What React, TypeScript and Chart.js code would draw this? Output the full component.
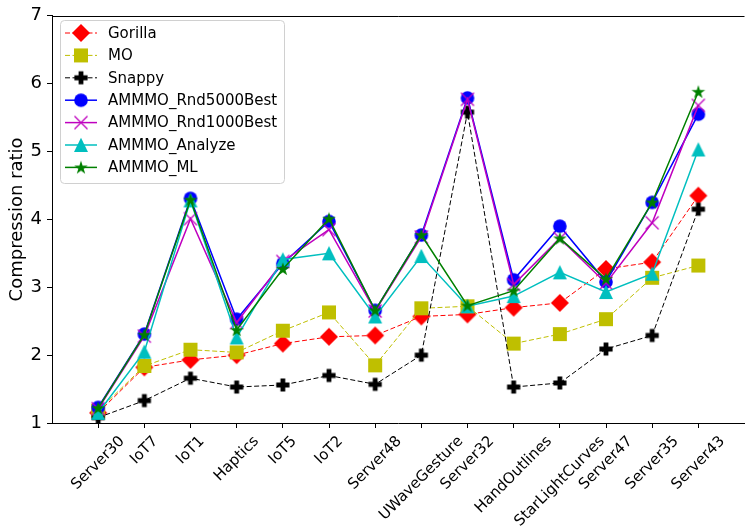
import React, { useEffect, useRef } from 'react';
import { Chart, registerables } from 'chart.js';

Chart.register(...registerables);

const categories = ['Server30', 'IoT7', 'IoT1', 'Haptics', 'IoT5', 'IoT2', 'Server48', 'UWaveGesture', 'Server32', 'HandOutlines', 'StarLightCurves', 'Server47', 'Server35', 'Server43'];
const gorilla = [1.15, 1.82, 1.93, 2.0, 2.17, 2.27, 2.29, 2.57, 2.6, 2.7, 2.77, 3.27, 3.37, 4.35];
const mo = [1.18, 1.84, 2.08, 2.04, 2.36, 2.63, 1.85, 2.69, 2.72, 2.17, 2.31, 2.53, 3.14, 3.32];
const snappy = [1.08, 1.33, 1.66, 1.53, 1.56, 1.7, 1.57, 2.0, 5.58, 1.53, 1.59, 2.09, 2.29, 4.15];
const rnd5000 = [1.23, 2.31, 4.31, 2.53, 3.35, 3.97, 2.66, 3.77, 5.79, 3.11, 3.9, 3.08, 4.25, 5.55];
const rnd1000 = [1.21, 2.28, 4.01, 2.48, 3.38, 3.85, 2.65, 3.74, 5.77, 3.04, 3.72, 3.06, 3.95, 5.68];
const analyze = [1.15, 2.05, 4.28, 2.26, 3.41, 3.5, 2.57, 3.46, 2.72, 2.87, 3.22, 2.93, 3.2, 5.03];
const ml = [1.22, 2.3, 4.29, 2.37, 3.27, 4.01, 2.66, 3.77, 2.73, 2.95, 3.72, 3.12, 4.25, 5.88];
const seriesLabels = ['Gorilla', 'MO', 'Snappy', 'AMMMO_Rnd5000Best', 'AMMMO_Rnd1000Best', 'AMMMO_Analyze', 'AMMMO_ML'];
const yTicks = [1, 2, 3, 4, 5, 6, 7];

const FONT = '"DejaVu Sans", sans-serif';

function makeMarker(size: number, draw: (ctx: CanvasRenderingContext2D, c: number) => void) {
  const cv = document.createElement('canvas');
  cv.width = size;
  cv.height = size;
  const ctx = cv.getContext('2d')!;
  draw(ctx, size / 2);
  return cv;
}

function buildMarkers() {
  const diamond = makeMarker(20, (ctx, c) => {
    ctx.fillStyle = '#ff0000';
    ctx.beginPath();
    ctx.moveTo(c, c - 9); ctx.lineTo(c + 9, c); ctx.lineTo(c, c + 9); ctx.lineTo(c - 9, c);
    ctx.closePath(); ctx.fill();
  });
  const square = makeMarker(16, (ctx, c) => {
    ctx.fillStyle = '#bfbf00';
    ctx.fillRect(c - 7, c - 7, 14, 14);
  });
  const plus = makeMarker(16, (ctx, c) => {
    ctx.fillStyle = '#000000';
    const a = 6.6, t = 2.4;
    ctx.beginPath();
    ctx.moveTo(c - t, c - a); ctx.lineTo(c + t, c - a); ctx.lineTo(c + t, c - t); ctx.lineTo(c + a, c - t);
    ctx.lineTo(c + a, c + t); ctx.lineTo(c + t, c + t); ctx.lineTo(c + t, c + a); ctx.lineTo(c - t, c + a);
    ctx.lineTo(c - t, c + t); ctx.lineTo(c - a, c + t); ctx.lineTo(c - a, c - t); ctx.lineTo(c - t, c - t);
    ctx.closePath(); ctx.fill();
  });
  const circle = makeMarker(16, (ctx, c) => {
    ctx.fillStyle = '#0000ff';
    ctx.beginPath(); ctx.arc(c, c, 6.8, 0, Math.PI * 2); ctx.fill();
  });
  const xmark = makeMarker(16, (ctx, c) => {
    ctx.strokeStyle = '#bf00bf'; ctx.lineWidth = 1.3;
    const a = 6.5;
    ctx.beginPath();
    ctx.moveTo(c - a, c - a); ctx.lineTo(c + a, c + a);
    ctx.moveTo(c + a, c - a); ctx.lineTo(c - a, c + a);
    ctx.stroke();
  });
  const tri = makeMarker(16, (ctx, c) => {
    ctx.fillStyle = '#00bfbf';
    ctx.beginPath();
    ctx.moveTo(c, c - 7.2); ctx.lineTo(c + 7, c + 7); ctx.lineTo(c - 7, c + 7);
    ctx.closePath(); ctx.fill();
  });
  const star = makeMarker(18, (ctx, c) => {
    ctx.fillStyle = '#008000';
    const R = 7.2, r = R * 0.382;
    ctx.beginPath();
    for (let k = 0; k < 10; k++) {
      const ang = -Math.PI / 2 + (k * Math.PI) / 5;
      const rr = k % 2 === 0 ? R : r;
      const px = c + rr * Math.cos(ang), py = c + 0.5 + rr * Math.sin(ang);
      if (k === 0) ctx.moveTo(px, py); else ctx.lineTo(px, py);
    }
    ctx.closePath(); ctx.fill();
  });
  return [diamond, square, plus, circle, xmark, tri, star];
}

const colors = ['#ff0000', '#bfbf00', '#000000', '#0000ff', '#bf00bf', '#00bfbf', '#008000'];
const dashedFlags = [true, true, true, false, false, false, false];

export default function App() {
  const ref = useRef<HTMLCanvasElement>(null);

  useEffect(() => {
    const markers = buildMarkers();
    const values = [gorilla, mo, snappy, rnd5000, rnd1000, analyze, ml];

    const datasets = values.map((vals, i) => ({
      label: seriesLabels[i],
      data: vals.map((v, j) => ({ x: j, y: v })),
      borderColor: colors[i],
      backgroundColor: colors[i],
      borderWidth: dashedFlags[i] ? 1 : 1.5,
      borderDash: dashedFlags[i] ? [5, 2.5] : [],
      pointStyle: markers[i] as any,
      pointRadius: 6,
      pointHoverRadius: 6,
      tension: 0,
      order: 6 - i,
    }));

    const decor = {
      id: 'decor',
      afterDraw(chart: any) {
        const { ctx, chartArea: a, scales } = chart;
        ctx.save();
        // top frame line
        ctx.strokeStyle = '#000';
        ctx.lineWidth = 1;
        ctx.beginPath();
        ctx.moveTo(a.left, Math.round(a.top) + 0.5);
        ctx.lineTo(a.right, Math.round(a.top) + 0.5);
        ctx.stroke();

        // rotated x labels, centred on ticks
        ctx.font = `15px ${FONT}`;
        ctx.fillStyle = '#000';
        ctx.textAlign = 'center';
        ctx.textBaseline = 'middle';
        const top = a.bottom + 10;
        categories.forEach((lab, i) => {
          const x = scales.x.getPixelForValue(i);
          const L = ctx.measureText(lab).width;
          const half = ((L + 17) * Math.SQRT1_2) / 2;
          ctx.save();
          ctx.translate(x, top + half);
          ctx.rotate(-Math.PI / 4);
          ctx.fillText(lab, 0, 0);
          ctx.restore();
        });

        // legend
        const lx = 60.5, ly = 20.5, lw = 224, lh = 163, rad = 4;
        ctx.beginPath();
        ctx.moveTo(lx + rad, ly);
        ctx.lineTo(lx + lw - rad, ly);
        ctx.quadraticCurveTo(lx + lw, ly, lx + lw, ly + rad);
        ctx.lineTo(lx + lw, ly + lh - rad);
        ctx.quadraticCurveTo(lx + lw, ly + lh, lx + lw - rad, ly + lh);
        ctx.lineTo(lx + rad, ly + lh);
        ctx.quadraticCurveTo(lx, ly + lh, lx, ly + lh - rad);
        ctx.lineTo(lx, ly + rad);
        ctx.quadraticCurveTo(lx, ly, lx + rad, ly);
        ctx.closePath();
        ctx.fillStyle = 'rgba(255,255,255,0.8)';
        ctx.fill();
        ctx.strokeStyle = '#d0d0d0';
        ctx.lineWidth = 1;
        ctx.stroke();

        ctx.font = `15px ${FONT}`;
        ctx.textAlign = 'left';
        ctx.textBaseline = 'middle';
        seriesLabels.forEach((lab, i) => {
          const y = 33 + i * 22.4;
          ctx.save();
          ctx.strokeStyle = colors[i];
          ctx.lineWidth = dashedFlags[i] ? 1 : 1.5;
          ctx.setLineDash(dashedFlags[i] ? [5, 2.5] : []);
          ctx.beginPath();
          ctx.moveTo(65, y);
          ctx.lineTo(97, y);
          ctx.stroke();
          ctx.restore();
          const m = markers[i];
          ctx.drawImage(m, 81 - m.width / 2, y - m.height / 2);
          ctx.fillStyle = '#000';
          ctx.fillText(lab, 108, y + 1);
        });
        ctx.restore();
      },
    };

    const chart = new Chart(ref.current!, {
      type: 'line',
      data: { datasets } as any,
      plugins: [decor],
      options: {
        animation: false,
        responsive: false,
        devicePixelRatio: 1,
        layout: { padding: { top: 12, left: 0, right: 0, bottom: 0 } },
        plugins: { legend: { display: false }, tooltip: { enabled: false } },
        font: { family: FONT },
        scales: {
          x: {
            type: 'linear',
            min: -1,
            max: 14,
            afterBuildTicks: (s: any) => {
              s.ticks = categories.map((_, i) => ({ value: i }));
            },
            afterFit: (s: any) => {
              s.height = 106;
            },
            ticks: { display: false },
            grid: { drawOnChartArea: false, drawTicks: true, tickLength: 5, color: '#000' },
            border: { display: true, color: '#000', width: 1 },
          },
          y: {
            type: 'linear',
            min: 1,
            max: 7,
            afterBuildTicks: (s: any) => {
              s.ticks = yTicks.map((v) => ({ value: v }));
            },
            afterFit: (s: any) => {
              s.width = 52;
            },
            ticks: { font: { size: 18, family: FONT }, color: '#000', padding: 5 },
            grid: { drawOnChartArea: false, drawTicks: true, tickLength: 5, color: '#000' },
            border: { display: true, color: '#000', width: 1 },
            title: {
              display: true,
              text: 'Compression ratio',
              font: { size: 18, family: FONT },
              color: '#000',
              padding: { top: 7, bottom: 0 },
            },
          },
        },
      } as any,
    });
    return () => chart.destroy();
  }, []);

  return (
    <div style={{ position: 'absolute', left: 0, top: 0, width: 752, height: 529, background: '#fff' }}>
      <canvas ref={ref} width={752} height={529} style={{ display: 'block' }} />
    </div>
  );
}
